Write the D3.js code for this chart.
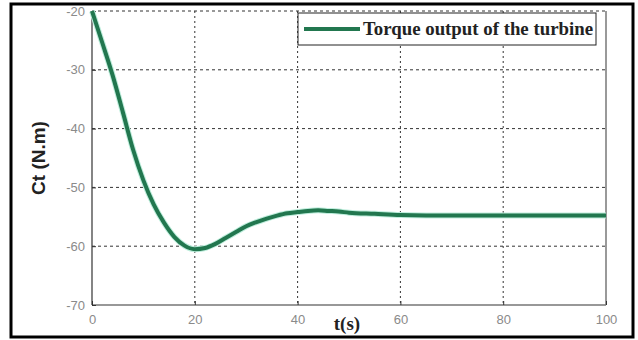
<!DOCTYPE html>
<html>
<head>
<meta charset="utf-8">
<script src="https://cdn.jsdelivr.net/npm/d3@7"></script>
<style>
  body { margin: 0; background: #fff; }
  svg { display: block; }
</style>
</head>
<body>
<div id="chart"></div>
<script>
// time (s) and turbine torque Ct (N.m)
const time = [0, 2, 4, 6, 8, 10, 12, 14, 16, 18, 20, 22, 24, 26, 28, 30, 32, 34, 36, 38, 40, 42, 44, 46, 48, 50, 55, 60, 70, 80, 90, 100];
const torque = [-20, -25.4, -30.9, -37.2, -43.6, -48.8, -52.9, -56.0, -58.4, -59.9, -60.5, -60.3, -59.6, -58.6, -57.6, -56.6, -55.9, -55.3, -54.8, -54.4, -54.2, -54.0, -53.9, -54.0, -54.1, -54.3, -54.5, -54.7, -54.8, -54.8, -54.8, -54.8];
const xTicks = [0, 20, 40, 60, 80, 100];
const yTicks = [-20, -30, -40, -50, -60, -70];
const legendLabel = "Torque output of the turbine";

const W = 638, H = 340;
const plot = {left: 92, right: 606, top: 11, bottom: 305};

const svg = d3.select("#chart").append("svg")
  .attr("width", W)
  .attr("height", H);

// outer frame
svg.append("rect")
  .attr("x", 11).attr("y", 4)
  .attr("width", 622).attr("height", 333)
  .attr("fill", "#fff")
  .attr("stroke", "#000")
  .attr("stroke-width", 3);

const x = d3.scaleLinear().domain([0, 100]).range([plot.left, plot.right]);
const y = d3.scaleLinear().domain([-70, -20]).range([plot.bottom, plot.top]);

// grid
const grid = svg.append("g");
grid.selectAll(".vgrid")
  .data(xTicks.filter(d => d > 0 && d < 100))
  .enter().append("line")
    .attr("x1", d => x(d)).attr("x2", d => x(d))
    .attr("y1", plot.top).attr("y2", plot.bottom)
    .attr("stroke", "#333")
    .attr("stroke-width", 1)
    .attr("stroke-dasharray", "2,3");
grid.selectAll(".hgrid")
  .data(yTicks.filter(d => d > -70))
  .enter().append("line")
    .attr("x1", plot.left).attr("x2", plot.right)
    .attr("y1", d => y(d)).attr("y2", d => y(d))
    .attr("stroke", "#333")
    .attr("stroke-width", 1)
    .attr("stroke-dasharray", "3,3");

// box lines
svg.append("line")
  .attr("x1", plot.left).attr("x2", plot.left)
  .attr("y1", plot.top).attr("y2", plot.bottom)
  .attr("stroke", "#333").attr("stroke-width", 1.2);
svg.append("line")
  .attr("x1", plot.left).attr("x2", plot.right)
  .attr("y1", plot.bottom).attr("y2", plot.bottom)
  .attr("stroke", "#333").attr("stroke-width", 1.2);
svg.append("line")
  .attr("x1", plot.right).attr("x2", plot.right)
  .attr("y1", plot.top).attr("y2", plot.bottom)
  .attr("stroke", "#777").attr("stroke-width", 1.5);

// axes (ticks inside, like matlab)
const xAxis = svg.append("g")
  .attr("transform", "translate(0," + plot.bottom + ")")
  .call(d3.axisBottom(x).tickValues(xTicks).tickFormat(d => String(d)).tickSize(-4).tickPadding(10));
const yAxis = svg.append("g")
  .attr("transform", "translate(" + plot.left + ",0)")
  .call(d3.axisLeft(y).tickValues(yTicks).tickFormat(d => String(d)).tickSize(-4).tickPadding(7));
[xAxis, yAxis].forEach(a => {
  a.select(".domain").remove();
  a.selectAll(".tick line").attr("stroke", "#333");
  a.selectAll("text")
    .attr("fill", "#8a8a8a")
    .attr("font-family", "Arial, 'Liberation Sans', sans-serif")
    .attr("font-size", "13px");
});

// curve
const line = d3.line()
  .x((d, i) => x(time[i]))
  .y(d => y(d))
  .curve(d3.curveMonotoneX);
svg.append("path")
  .datum(torque)
  .attr("fill", "none")
  .attr("stroke", "#bfeedd")
  .attr("stroke-width", 6)
  .attr("d", line);
svg.append("path")
  .datum(torque)
  .attr("fill", "none")
  .attr("stroke", "#22774f")
  .attr("stroke-width", 4)
  .attr("stroke-linejoin", "round")
  .attr("d", line);

// legend
const legend = svg.append("g");
legend.append("rect")
  .attr("x", 298).attr("y", 13)
  .attr("width", 298).attr("height", 32)
  .attr("fill", "#fff")
  .attr("stroke", "#222")
  .attr("stroke-width", 1);
legend.append("line")
  .attr("x1", 304).attr("x2", 360)
  .attr("y1", 29).attr("y2", 29)
  .attr("stroke", "#22774f")
  .attr("stroke-width", 4);
legend.append("text")
  .attr("x", 363).attr("y", 35)
  .attr("font-family", "'Liberation Serif', 'Times New Roman', serif")
  .attr("font-weight", "bold")
  .attr("font-size", "18px")
  .attr("textLength", 230)
  .attr("lengthAdjust", "spacingAndGlyphs")
  .attr("fill", "#222")
  .text(legendLabel);

// axis titles
svg.append("text")
  .attr("transform", "translate(45,158) rotate(-90)")
  .attr("text-anchor", "middle")
  .attr("font-family", "Arial, 'Liberation Sans', sans-serif")
  .attr("font-weight", "bold")
  .attr("font-size", "19px")
  .attr("fill", "#222")
  .text("Ct (N.m)");
svg.append("text")
  .attr("x", 347).attr("y", 330)
  .attr("text-anchor", "middle")
  .attr("font-family", "'Liberation Serif', 'Times New Roman', serif")
  .attr("font-weight", "bold")
  .attr("font-size", "19px")
  .attr("fill", "#222")
  .text("t(s)");
</script>
</body>
</html>
